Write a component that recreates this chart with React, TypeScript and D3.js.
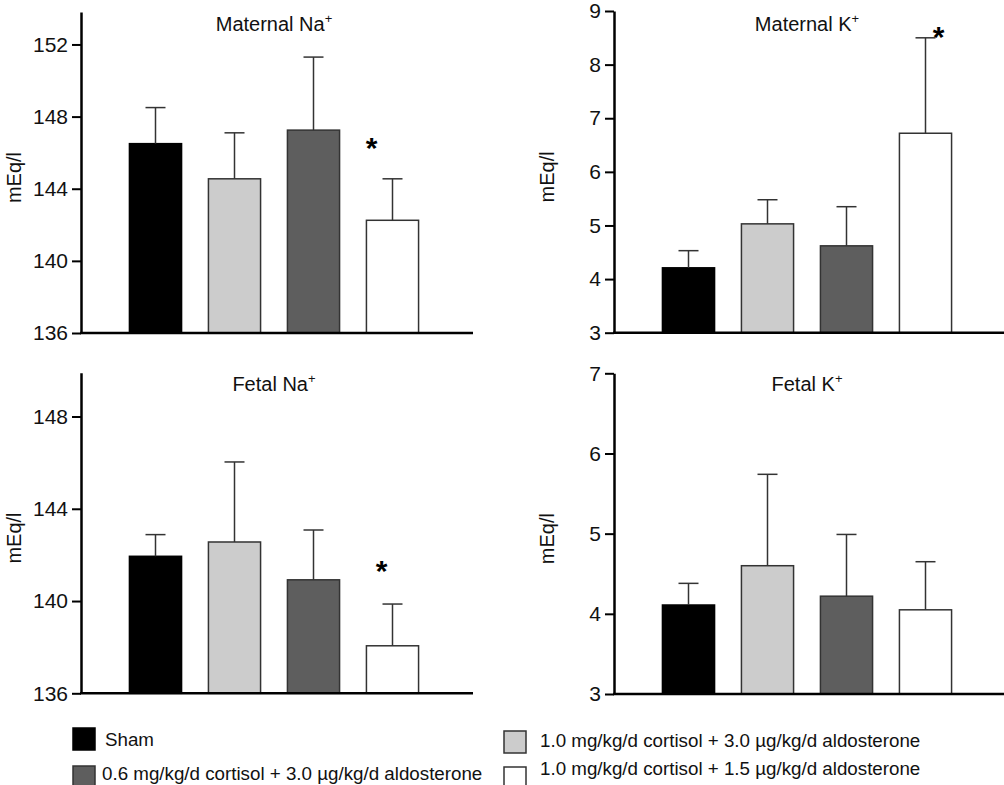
import React, { useEffect, useRef } from "react";
import * as d3 from "d3";

// ---- data ----
const groups = [
  "Sham",
  "1.0 mg/kg/d cortisol + 3.0 µg/kg/d aldosterone",
  "0.6 mg/kg/d cortisol + 3.0 µg/kg/d aldosterone",
  "1.0 mg/kg/d cortisol + 1.5 µg/kg/d aldosterone",
];
const groupColors = ["#000000", "#cccccc", "#5e5e5e", "#ffffff"];

const maternalNaMean = [146.5, 144.55, 147.25, 142.25];
const maternalNaSem = [2.0, 2.55, 4.05, 2.3];
const maternalKMean = [4.21, 5.03, 4.62, 6.72];
const maternalKSem = [0.32, 0.45, 0.73, 1.78];
const fetalNaMean = [141.94, 142.56, 140.92, 138.06];
const fetalNaSem = [0.94, 3.47, 2.16, 1.81];
const fetalKMean = [4.11, 4.6, 4.22, 4.05];
const fetalKSem = [0.27, 1.14, 0.77, 0.6];

const maternalNaTicks = [136, 140, 144, 148, 152];
const maternalKTicks = [3, 4, 5, 6, 7, 8, 9];
const fetalNaTicks = [136, 140, 144, 148];
const fetalKTicks = [3, 4, 5, 6, 7];

// significance markers: [group index, value level of the star]
const maternalNaStars: [number, number][] = [[3, 146.6]];
const maternalKStars: [number, number][] = [[3, 8.63]];
const fetalNaStars: [number, number][] = [[3, 141.55]];
const fetalKStars: [number, number][] = [];

const FONT = "'Liberation Sans', Arial, Helvetica, sans-serif";

type Panel = {
  title: string;
  ion: string;
  means: number[];
  sems: number[];
  ticks: number[];
  stars: [number, number][];
  domain: [number, number];
  left: number;
  right: number;
  top: number;
  bottom: number;
  starDx: number;
};

const panels: Panel[] = [
  { title: "Maternal ", ion: "Na", means: maternalNaMean, sems: maternalNaSem, ticks: maternalNaTicks, stars: maternalNaStars, domain: [136, 153.8], left: 81, right: 473, top: 12, bottom: 333, starDx: -21 },
  { title: "Maternal ", ion: "K", means: maternalKMean, sems: maternalKSem, ticks: maternalKTicks, stars: maternalKStars, domain: [3, 9], left: 614, right: 1004, top: 11, bottom: 332.7, starDx: 13 },
  { title: "Fetal ", ion: "Na", means: fetalNaMean, sems: fetalNaSem, ticks: fetalNaTicks, stars: fetalNaStars, domain: [136, 149.9], left: 81, right: 473, top: 372.7, bottom: 693.3, starDx: -11 },
  { title: "Fetal ", ion: "K", means: fetalKMean, sems: fetalKSem, ticks: fetalKTicks, stars: fetalKStars, domain: [3, 7], left: 614, right: 1004, top: 373.3, bottom: 694, starDx: 0 },
];

// legend order: Sham, 0.6..., 1.0+3.0, 1.0+1.5
const legendOrder = [0, 2, 1, 3];
const legendPos = [
  { x: 73, y: 728, tx: 105, ty: 746 },
  { x: 73, y: 766, tx: 102, ty: 780 },
  { x: 504, y: 731, tx: 540, ty: 747 },
  { x: 504, y: 767, tx: 540, ty: 775 },
];

export default function App() {
  const ref = useRef<SVGSVGElement>(null);

  useEffect(() => {
    const svg = d3.select(ref.current);
    svg.selectAll("*").remove();

    panels.forEach((p) => {
      const g = svg.append("g");
      const y = d3.scaleLinear().domain(p.domain).range([p.bottom, p.top]);
      const x = d3
        .scaleBand<number>()
        .domain(d3.range(groups.length))
        .range([p.left + 35, p.left + 351])
        .paddingInner(0.34)
        .paddingOuter(0.17);

      // bars
      g.selectAll("rect.bar")
        .data(p.means)
        .join("rect")
        .attr("class", "bar")
        .attr("x", (_, i) => x(i)!)
        .attr("width", x.bandwidth())
        .attr("y", (d) => y(d))
        .attr("height", (d) => y(p.domain[0]) - y(d))
        .attr("fill", (_, i) => groupColors[i])
        .attr("stroke", (_, i) => (i === 0 ? "#000" : "#333"))
        .attr("stroke-width", 1.5);

      // error bars
      p.means.forEach((m, i) => {
        const cx = x(i)! + x.bandwidth() / 2;
        g.append("line")
          .attr("x1", cx).attr("x2", cx)
          .attr("y1", y(m)).attr("y2", y(m + p.sems[i]))
          .attr("stroke", "#333").attr("stroke-width", 1.5);
        g.append("line")
          .attr("x1", cx - 10).attr("x2", cx + 10)
          .attr("y1", y(m + p.sems[i])).attr("y2", y(m + p.sems[i]))
          .attr("stroke", "#333").attr("stroke-width", 1.5);
      });

      // stars
      p.stars.forEach(([i, v]) => {
        const cx = x(i)! + x.bandwidth() / 2 + p.starDx;
        g.append("text")
          .attr("x", cx)
          .attr("y", y(v) + 16)
          .attr("text-anchor", "middle")
          .attr("font-family", FONT)
          .attr("font-weight", "bold")
          .attr("font-size", 30)
          .attr("fill", "#000")
          .text("*");
      });

      // y axis
      const ax = g
        .append("g")
        .attr("transform", `translate(${p.left},0)`)
        .call(d3.axisLeft(y).tickValues(p.ticks).tickSize(9).tickSizeOuter(0).tickPadding(4).tickFormat(d3.format("d")));
      ax.select(".domain").attr("stroke", "#000").attr("stroke-width", 2.5);
      ax.selectAll(".tick line").attr("stroke", "#000").attr("stroke-width", 2);
      ax.selectAll(".tick text")
        .attr("font-family", FONT)
        .attr("font-size", 21)
        .attr("fill", "#111");

      // x axis line
      g.append("line")
        .attr("x1", p.left - 1).attr("x2", p.right)
        .attr("y1", p.bottom).attr("y2", p.bottom)
        .attr("stroke", "#000").attr("stroke-width", 2.5);

      // y label
      const ly = (p.top + p.bottom) / 2 + 5;
      g.append("text")
        .attr("transform", `translate(${p.left - 60},${ly}) rotate(-90)`)
        .attr("text-anchor", "middle")
        .attr("font-family", FONT)
        .attr("font-size", 20)
        .attr("fill", "#111")
        .text("mEq/l");

      // title
      const tcx = (x(0)! + x(groups.length - 1)! + x.bandwidth()) / 2;
      const ty = p.top < 100 ? 31 : 391;
      const t = g.append("text")
        .attr("x", tcx)
        .attr("y", ty)
        .attr("text-anchor", "middle")
        .attr("font-family", FONT)
        .attr("font-size", 20)
        .attr("fill", "#111");
      t.append("tspan").text(p.title + p.ion);
      t.append("tspan").attr("dy", -8).attr("font-size", 13).text("+");
    });

    // legend
    legendOrder.forEach((gi, k) => {
      const lp = legendPos[k];
      svg.append("rect")
        .attr("x", lp.x).attr("y", lp.y)
        .attr("width", 22).attr("height", 22)
        .attr("fill", groupColors[gi])
        .attr("stroke", gi === 0 ? "#000" : "#333")
        .attr("stroke-width", 1.5);
      svg.append("text")
        .attr("x", lp.tx).attr("y", lp.ty)
        .attr("font-family", FONT)
        .attr("font-size", 18.75)
        .attr("fill", "#111")
        .text(groups[gi]);
    });
  }, []);

  return (
    <svg
      ref={ref}
      width={1004}
      height={785}
      style={{ position: "absolute", left: 0, top: 0, display: "block", background: "#fff" }}
    />
  );
}
